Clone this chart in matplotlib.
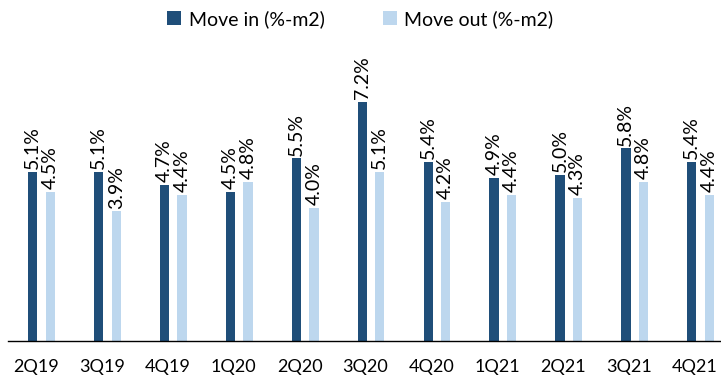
import matplotlib.pyplot as plt
import matplotlib.transforms as mtrans
import numpy as np

plt.rcParams['font.family'] = ['Lato', 'DejaVu Sans']

# quarterly move in / move out, % of m2
quarters = ['2Q19', '3Q19', '4Q19', '1Q20', '2Q20', '3Q20', '4Q20', '1Q21', '2Q21', '3Q21', '4Q21']
move_in = [5.1, 5.1, 4.7, 4.5, 5.5, 7.2, 5.4, 4.9, 5.0, 5.8, 5.4]
move_out = [4.5, 3.9, 4.4, 4.8, 4.0, 5.1, 4.2, 4.4, 4.3, 4.8, 4.4]

dark = '#1F4E79'
light = '#BDD7EE'

x = np.arange(len(quarters))
w = 0.14
off = 0.133

fig = plt.figure(figsize=(7.21, 3.85), dpi=100)
ax = fig.add_axes([0.011, 0.114, 0.989, 0.777])

b1 = ax.bar(x - off, move_in, width=w, color=dark, label='Move in (%-m2)')
b2 = ax.bar(x + off, move_out, width=w, color=light, label='Move out (%-m2)')

for bars, vals in [(b1, move_in), (b2, move_out)]:
    for b, v in zip(bars, vals):
        ax.annotate(f'{v:.1f}%', (b.get_x() + b.get_width() / 2, v),
                    xytext=(0, 2), textcoords='offset points',
                    ha='center', va='bottom', rotation=90, fontsize=14, color='black')

ax.set_xlim(-0.51, 10.31)
ax.set_ylim(0, 9)
ax.set_xticks(x)
ax.set_xticklabels(quarters, fontsize=13)
ax.tick_params(axis='x', length=0, pad=13)
# nudge quarter labels a little left so the last one fits
shift = mtrans.ScaledTranslation(-4 / 72, 0, fig.dpi_scale_trans)
for lbl in ax.get_xticklabels():
    lbl.set_transform(lbl.get_transform() + shift)
ax.set_yticks([])
for s in ['top', 'right', 'left']:
    ax.spines[s].set_visible(False)
ax.spines['bottom'].set_color('black')
ax.spines['bottom'].set_linewidth(1)

fig.legend(loc='upper center', bbox_to_anchor=(0.5, 1.02), ncol=2, frameon=False,
           fontsize=14, handlelength=0.7, handleheight=0.7, columnspacing=3, handletextpad=0.4)

fig.savefig('out.png', dpi=100)
